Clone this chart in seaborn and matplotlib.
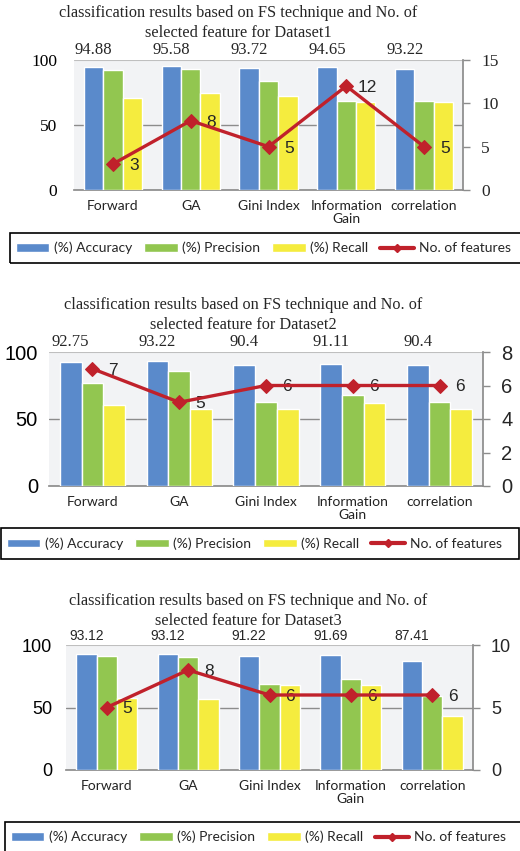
import numpy as np
import pandas as pd
import matplotlib
matplotlib.use("Agg")
import matplotlib.pyplot as plt
from matplotlib.lines import Line2D
from matplotlib.patches import Rectangle
import seaborn as sns

methods = ["Forward", "GA", "Gini Index", "Information\nGain", "correlation"]
metrics = ["(%) Accuracy", "(%) Precision", "(%) Recall"]

# Dataset1
acc1 = [94.88, 95.58, 93.72, 94.65, 93.22]
prec1 = [92.3, 93.1, 83.8, 68.5, 68.5]
rec1 = [70.8, 74.9, 72.3, 67.9, 67.9]
feat1 = [3, 8, 5, 12, 5]

# Dataset2
acc2 = [92.75, 93.22, 90.4, 91.11, 90.4]
prec2 = [77.1, 85.8, 62.4, 67.9, 62.4]
rec2 = [60.7, 57.7, 57.5, 62.2, 57.5]
feat2 = [7, 5, 6, 6, 6]

# Dataset3
acc3 = [93.12, 93.12, 91.22, 91.69, 87.41]
prec3 = [91.2, 90.4, 69.1, 72.9, 59.3]
rec3 = [57.4, 56.9, 68.1, 68.1, 43.6]
feat3 = [5, 8, 6, 6, 6]

acc_labels = [
    ["94.88", "95.58", "93.72", "94.65", "93.22"],
    ["92.75", "93.22", "90.4", "91.11", "90.4"],
    ["93.12", "93.12", "91.22", "91.69", "87.41"],
]

colors = ["#5A8ACB", "#92C650", "#F5EC3E"]
red = "#C0212B"
serif = "Liberation Serif"
sans = "Liberation Sans"
cat_font = "Lato"

sns.set_theme(style="white")
fig = plt.figure(figsize=(5.2, 8.51), dpi=100)

panels = [
    dict(acc=acc1, prec=prec1, rec=rec1, feat=feat1, name="Dataset1",
         rect=[74/520, 1-190/851, 389/520, 130/851], rmax=15, rstep=5,
         ytfont=serif, ytsize=12.5, ypad=12, accfont=serif, accsize=12,
         title_x=238/520, title_y=1-5/851, box=(10, 233, 530, 30)),
    dict(acc=acc2, prec=prec2, rec=rec2, feat=feat2, name="Dataset2",
         rect=[49/520, 1-486/851, 434/520, 134/851], rmax=8, rstep=2,
         ytfont=sans, ytsize=14.5, ypad=8, accfont=serif, accsize=12,
         title_x=243/520, title_y=1-297/851, box=(1, 528, 518, 31)),
    dict(acc=acc3, prec=prec3, rec=rec3, feat=feat3, name="Dataset3",
         rect=[66/520, 1-770/851, 407/520, 125/851], rmax=10, rstep=5,
         ytfont=sans, ytsize=13, ypad=10, accfont=sans, accsize=10,
         title_x=248/520, title_y=1-593/851, box=(5, 822, 530, 30)),
]

W, H = 520, 851

for k, p in enumerate(panels):
    df = pd.DataFrame({
        "method": methods * 3,
        "metric": [m for m in metrics for _ in methods],
        "value": p["acc"] + p["prec"] + p["rec"],
    })
    ax = fig.add_axes(p["rect"])
    ax.set_facecolor("#F2F3F5")
    sns.barplot(data=df, x="method", y="value", hue="metric", palette=colors,
                width=0.75, gap=0, errorbar=None, saturation=1, ax=ax, zorder=3)
    ax.set_ylim(0, 100)
    ax.set_yticks([0, 50, 100])
    ax.set_xlabel("")
    ax.set_ylabel("")
    ax.axhline(50, color="#8C8C8C", lw=1, zorder=1)
    ax.axhline(100, color="#BFBFBF", lw=0.8, zorder=1)
    for s in ["top", "left", "right"]:
        ax.spines[s].set_visible(False)
    ax.spines["bottom"].set_color("#8C8C8C")
    ax.tick_params(axis="x", length=0, pad=7)
    ax.tick_params(axis="y", length=0, pad=p["ypad"])
    for t in ax.get_xticklabels():
        t.set_fontfamily(cat_font)
        t.set_fontsize(10)
        t.set_linespacing(1.1)
        t.set_color("#222222")
    for t in ax.get_yticklabels():
        t.set_fontfamily(p["ytfont"])
        t.set_fontsize(p["ytsize"])
        t.set_color("black")

    handles, labels = ax.get_legend_handles_labels()
    ax.get_legend().remove()

    # accuracy labels above the plot
    xs = np.arange(len(methods)) - 0.25
    for x, lab in zip(xs, acc_labels[k]):
        ax.text(x, 101.5, lab, ha="center", va="bottom", fontsize=p["accsize"],
                family=p["accfont"], clip_on=False)

    ax2 = ax.twinx()
    sns.lineplot(x=np.arange(len(methods)), y=p["feat"], ax=ax2, color=red,
                 lw=2.4, marker="D", markersize=7, markeredgecolor=red,
                 legend=False, zorder=5)
    ax2.set_ylim(0, p["rmax"])
    ax2.set_yticks(np.arange(0, p["rmax"] + 1, p["rstep"]))
    ax2.set_xlim(-0.5, len(methods) - 0.5)
    for s in ["top", "left", "bottom"]:
        ax2.spines[s].set_visible(False)
    ax2.spines["right"].set_color("#8C8C8C")
    ax2.tick_params(axis="y", direction="out", length=5, color="#8C8C8C",
                    width=1, pad=8, right=True)
    for t in ax2.get_yticklabels():
        t.set_fontfamily(p["ytfont"])
        t.set_fontsize(p["ytsize"])
    ax2.grid(False)
    for x, v in enumerate(p["feat"]):
        ax2.annotate(str(v), (x, v), xytext=(15, -1), textcoords="offset points",
                     ha="center", va="center", fontsize=12.5, family=sans)
    line_handle = Line2D([], [], color=red, lw=3, marker="D", markersize=4)

    fig.text(p["title_x"], p["title_y"],
             "classification results based on FS technique and No. of\nselected feature for " + p["name"],
             ha="center", va="top", family=serif, fontsize=11.7, linespacing=1.3)

    bx, by, bw, bh = p["box"]
    fig.patches.append(Rectangle((bx / W, 1 - (by + bh) / H), bw / W, bh / H,
                                 transform=fig.transFigure, fill=False,
                                 edgecolor="black", lw=1.2))
    fig.legend(handles + [line_handle], labels + ["No. of features"],
               loc="center left", bbox_to_anchor=((bx + 6) / W, 1 - (by + bh / 2) / H),
               ncol=4, frameon=False,
               handlelength=2.4, handleheight=0.55, handletextpad=0.35,
               columnspacing=0.85, borderaxespad=0, borderpad=0,
               prop={"family": cat_font, "size": 10})

fig.savefig("out.png", dpi=100)
